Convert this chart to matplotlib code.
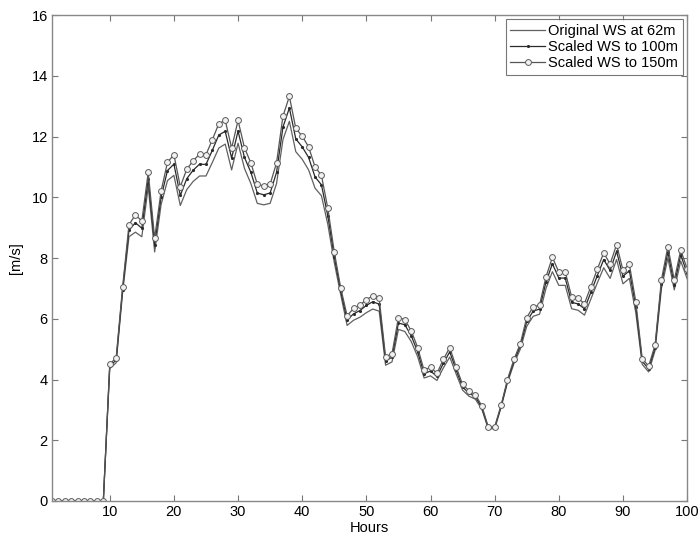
import matplotlib
matplotlib.use("Agg")
import matplotlib.pyplot as plt

plt.rcParams['font.family'] = ['Liberation Sans', 'DejaVu Sans']

hours = list(range(1, 101))

ws_62 = [0, 0, 0, 0, 0, 0, 0, 0, 0,
         4.36, 4.55, 6.85, 8.70, 8.85, 8.70, 10.35, 8.20, 9.75, 10.55,
         10.72, 9.73, 10.25, 10.52, 10.70, 10.70, 11.15, 11.62, 11.75, 10.90,
         11.78, 10.95, 10.45, 9.80, 9.75, 9.80, 10.45, 11.90, 12.50, 11.50,
         11.25, 10.90, 10.30, 10.05, 9.10, 7.85, 6.80, 5.78, 5.95, 6.05,
         6.20, 6.32, 6.25, 4.47, 4.58, 5.65, 5.58, 5.25, 4.75, 4.05,
         4.12, 3.97, 4.38, 4.74, 4.18, 3.65, 3.45, 3.35, 3.02, 2.38,
         2.38, 3.08, 3.90, 4.52, 5.00, 5.75, 6.08, 6.15, 7.00, 7.55,
         7.10, 7.10, 6.33, 6.28, 6.12, 6.65, 7.18, 7.68, 7.33, 7.95,
         7.15, 7.33, 6.20, 4.50, 4.25, 4.95, 7.00, 8.00, 6.95, 7.90,
         7.32]

ws_100 = [0, 0, 0, 0, 0, 0, 0, 0, 0,
          4.44, 4.64, 6.95, 8.92, 9.16, 8.98, 10.60, 8.44, 10.00, 10.88,
          11.09, 10.06, 10.61, 10.89, 11.09, 11.08, 11.55, 12.05, 12.17, 11.29,
          12.18, 11.31, 10.82, 10.14, 10.08, 10.14, 10.82, 12.31, 12.94, 11.92,
          11.66, 11.31, 10.67, 10.41, 9.38, 8.04, 6.92, 5.96, 6.16, 6.27,
          6.44, 6.56, 6.48, 4.62, 4.73, 5.86, 5.80, 5.44, 4.91, 4.19,
          4.28, 4.10, 4.53, 4.91, 4.31, 3.75, 3.55, 3.43, 3.08, 2.41,
          2.41, 3.12, 3.95, 4.60, 5.10, 5.91, 6.25, 6.32, 7.21, 7.81,
          7.34, 7.34, 6.54, 6.49, 6.33, 6.87, 7.42, 7.95, 7.59, 8.22,
          7.40, 7.58, 6.40, 4.60, 4.35, 5.05, 7.16, 8.20, 7.12, 8.10,
          7.50]

ws_150 = [0, 0, 0, 0, 0, 0, 0, 0, 0,
          4.50, 4.72, 7.03, 9.10, 9.42, 9.22, 10.82, 8.65, 10.20, 11.15,
          11.40, 10.35, 10.92, 11.20, 11.42, 11.40, 11.90, 12.42, 12.53, 11.62,
          12.53, 11.63, 11.13, 10.43, 10.37, 10.43, 11.13, 12.67, 13.32, 12.27,
          12.01, 11.66, 11.00, 10.72, 9.63, 8.20, 7.02, 6.10, 6.34, 6.45,
          6.63, 6.75, 6.67, 4.74, 4.85, 6.04, 5.97, 5.60, 5.05, 4.30,
          4.41, 4.20, 4.66, 5.05, 4.41, 3.84, 3.63, 3.50, 3.13, 2.44,
          2.44, 3.15, 4.00, 4.66, 5.18, 6.04, 6.39, 6.45, 7.38, 8.02,
          7.54, 7.54, 6.72, 6.67, 6.50, 7.06, 7.63, 8.17, 7.80, 8.44,
          7.60, 7.79, 6.56, 4.69, 4.44, 5.13, 7.29, 8.37, 7.27, 8.26,
          7.65]

labels = ['Original WS at 62m', 'Scaled WS to 100m', 'Scaled WS to 150m']

fig = plt.figure(figsize=(6.99, 5.36), dpi=100)
ax = fig.add_axes([0.0744, 0.0653, 0.9086, 0.9067])

ax.plot(hours, ws_62, color='#606060', lw=0.9, label=labels[0])
ax.plot(hours, ws_100, color='#2a2a2a', lw=0.9, marker='.', ms=2.5, label=labels[1])
ax.plot(hours, ws_150, color='#555555', lw=0.9, marker='o', ms=4.2,
        mfc='#f2f2f2', mec='#5a5a5a', mew=0.7, label=labels[2])

ax.set_xlim(1, 100)
ax.set_ylim(0, 16)
ax.set_xticks(range(10, 101, 10))
ax.set_yticks(range(0, 17, 2))
ax.tick_params(direction='in', top=True, right=True, labelsize=10.5,
               color='#777777', length=4, width=0.8, pad=3)
for s in ax.spines.values():
    s.set_color('#888888')
    s.set_linewidth(1.0)

ax.set_xlabel('Hours', fontsize=10.5, labelpad=1)
ax.set_ylabel('[m/s]', fontsize=10.5, labelpad=6)

leg = ax.legend(loc='upper right', fontsize=10.5, frameon=True, fancybox=False,
                borderaxespad=0.3, handlelength=2.4, handletextpad=0.2,
                borderpad=0.3, labelspacing=0.15)
leg.get_frame().set_edgecolor('#555555')
leg.get_frame().set_linewidth(0.8)

fig.savefig('out.png', dpi=100)
